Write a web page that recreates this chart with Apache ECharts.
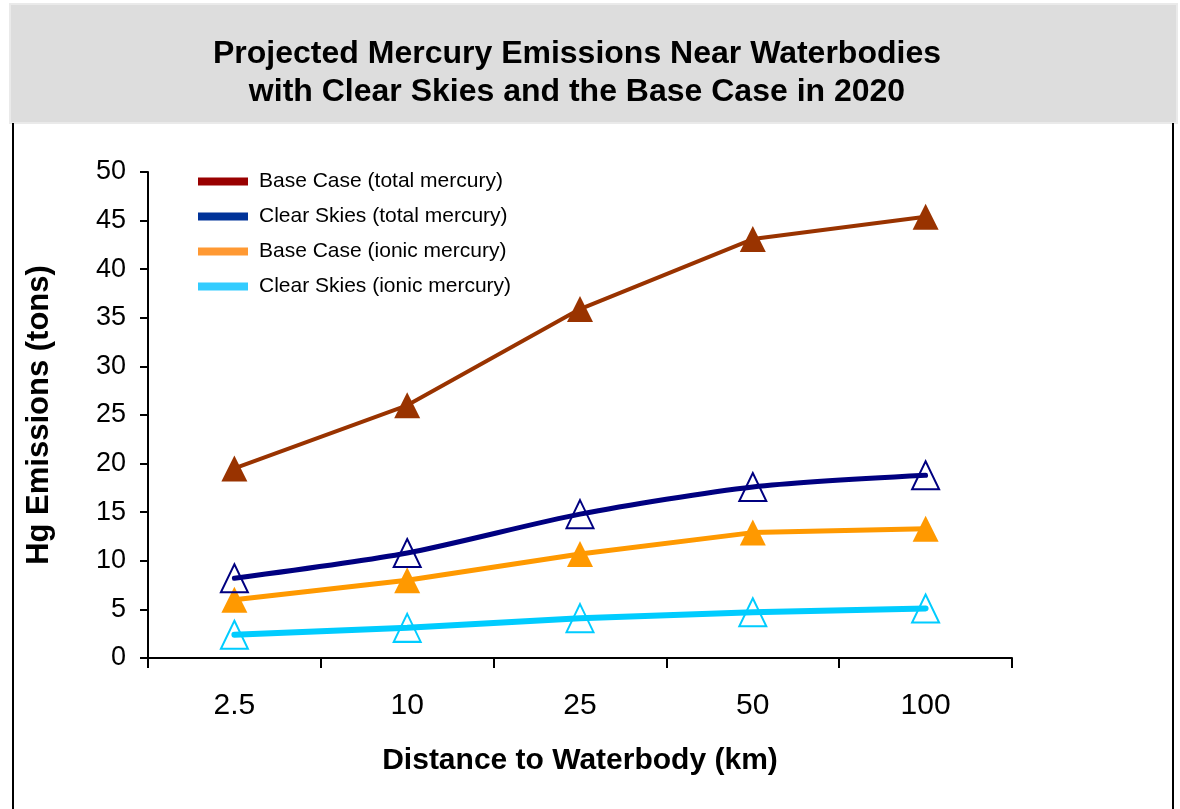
<!DOCTYPE html>
<html>
<head>
<meta charset="utf-8">
<script src="https://cdn.jsdelivr.net/npm/echarts@6/dist/echarts.min.js"></script>
<style>
  html, body { margin: 0; padding: 0; background: #fff; }
  #mercury-chart { width: 1180px; height: 809px; }
</style>
</head>
<body>
<div id="mercury-chart"></div>
<script>
// distance categories (km)
const distances = ['2.5', '10', '25', '50', '100'];
const seriesNames = [
  'Base Case (total mercury)',
  'Clear Skies (total mercury)',
  'Base Case (ionic mercury)',
  'Clear Skies (ionic mercury)',
];
// emissions in tons
const baseTotal = [19.5, 26.0, 35.9, 43.1, 45.4];
const clearTotal = [8.2, 10.8, 14.8, 17.6, 18.8];
const baseIonic = [6.0, 8.0, 10.7, 12.9, 13.3];
const clearIonic = [2.4, 3.1, 4.1, 4.7, 5.1];

const lineColors = ['#993300', '#000080', '#FF9900', '#00CCFF'];
const legendColors = ['#990000', '#003399', '#FF9933', '#33CCFF'];
const fontFamily = '"Liberation Sans", Arial, sans-serif';

const chart = echarts.init(document.getElementById('mercury-chart'));

function makeSeries(idx, data, filled, width, smooth) {
  return {
    name: seriesNames[idx],
    type: 'line',
    data: data,
    smooth: smooth,
    symbol: 'triangle',
    symbolSize: filled ? [26, 26] : [27, 28],
    lineStyle: { color: lineColors[idx], width: width, cap: 'round' },
    itemStyle: filled
      ? { color: lineColors[idx] }
      : { color: 'rgba(255,255,255,0)', borderColor: lineColors[idx], borderWidth: 2 },
    emphasis: { disabled: true },
    z: 5 - idx,
  };
}

chart.setOption({
  animation: false,
  textStyle: { fontFamily: fontFamily },
  graphic: [
    {
      type: 'rect',
      shape: { x: 10, y: 4, width: 1167, height: 119 },
      style: { fill: '#dddddd', stroke: '#eaeaea', lineWidth: 2 },
      z: -10,
    },
    {
      type: 'text',
      x: 577,
      y: 73,
      style: {
        text: 'Projected Mercury Emissions Near Waterbodies\nwith Clear Skies and the Base Case in 2020',
        fill: '#000',
        font: 'bold 32px ' + fontFamily,
        align: 'center',
        verticalAlign: 'middle',
        lineHeight: 38,
      },
    },
    {
      type: 'line',
      shape: { x1: 13, y1: 123, x2: 13, y2: 809 },
      style: { stroke: '#000', lineWidth: 2 },
    },
    {
      type: 'line',
      shape: { x1: 1173, y1: 123, x2: 1173, y2: 809 },
      style: { stroke: '#000', lineWidth: 2 },
    },
  ],
  legend: {
    orient: 'vertical',
    left: 193,
    top: 166,
    icon: 'rect',
    itemWidth: 50,
    itemHeight: 8,
    itemGap: 14,
    textStyle: { fontSize: 21, color: '#000', lineHeight: 21, padding: [0, 0, 0, 6] },
    data: seriesNames.map((n, i) => ({
      name: n,
      itemStyle: { color: legendColors[i], borderWidth: 0 },
    })),
  },
  grid: { left: 148, top: 172, right: 168, bottom: 151 },
  xAxis: {
    type: 'category',
    data: distances,
    boundaryGap: true,
    name: 'Distance to Waterbody (km)',
    nameLocation: 'middle',
    nameGap: 88,
    nameTextStyle: { fontSize: 30, fontWeight: 'bold', color: '#000' },
    axisLine: { lineStyle: { color: '#000', width: 2 } },
    axisTick: { show: true, length: 10, lineStyle: { color: '#000', width: 2 } },
    axisLabel: { fontSize: 30, color: '#000', margin: 33 },
    splitLine: { show: false },
  },
  yAxis: {
    type: 'value',
    min: 0,
    max: 50,
    interval: 5,
    name: 'Hg Emissions (tons)',
    nameLocation: 'middle',
    nameGap: 93,
    nameTextStyle: { fontSize: 31, fontWeight: 'bold', color: '#000' },
    axisLine: { show: true, lineStyle: { color: '#000', width: 2 } },
    axisTick: { show: true, length: 8, lineStyle: { color: '#000', width: 2 } },
    axisLabel: { fontSize: 27, color: '#000', margin: 22 },
    splitLine: { show: false },
  },
  series: [
    makeSeries(0, baseTotal, true, 4, false),
    makeSeries(1, clearTotal, false, 5, 0.25),
    makeSeries(2, baseIonic, true, 5, false),
    makeSeries(3, clearIonic, false, 6, false),
  ],
});
</script>
</body>
</html>
